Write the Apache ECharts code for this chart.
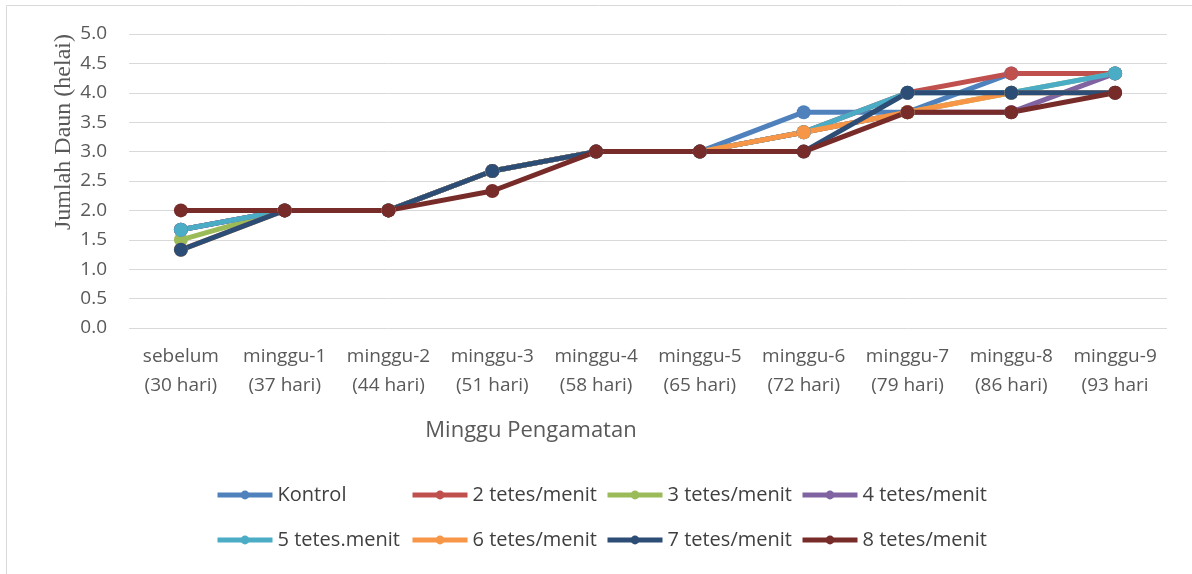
<!DOCTYPE html>
<html>
<head>
<meta charset="utf-8">
<script src="https://cdn.jsdelivr.net/npm/echarts@6/dist/echarts.min.js"></script>
<style>
  html, body { margin: 0; padding: 0; background: #fff; }
  #chart { width: 1192px; height: 574px; }
</style>
</head>
<body>
<div id="chart"></div>
<script>
const categories = [
  'sebelum\n(30 hari)', 'minggu-1\n(37 hari)', 'minggu-2\n(44 hari)', 'minggu-3\n(51 hari)',
  'minggu-4\n(58 hari)', 'minggu-5\n(65 hari)', 'minggu-6\n(72 hari)', 'minggu-7\n(79 hari)',
  'minggu-8\n(86 hari)', 'minggu-9\n(93 hari'
];

const seriesNames = [
  'Kontrol', '2 tetes/menit', '3 tetes/menit', '4 tetes/menit',
  '5 tetes.menit', '6 tetes/menit', '7 tetes/menit', '8 tetes/menit'
];

const colors = ['#4F81BD', '#C0504D', '#9BBB59', '#8064A2', '#4BACC6', '#F79646', '#2C4D75', '#772C2A'];

// average leaf count (helai)
const kontrol = [1.67, 2, 2, 2.67, 3, 3, 3.67, 3.67, 4.33, 4.33];
const tetes2  = [1.67, 2, 2, 2.67, 3, 3, 3.33, 4, 4.33, 4.33];
const tetes3  = [1.5, 2, 2, 2.67, 3, 3, 3.33, 3.67, 4, 4.33];
const tetes4  = [1.67, 2, 2, 2.67, 3, 3, 3.33, 3.67, 3.67, 4.33];
const tetes5  = [1.67, 2, 2, 2.67, 3, 3, 3.33, 4, 4, 4.33];
const tetes6  = [1.33, 2, 2, 2.67, 3, 3, 3.33, 3.67, 4, 4];
const tetes7  = [1.33, 2, 2, 2.67, 3, 3, 3, 4, 4, 4];
const tetes8  = [2, 2, 2, 2.33, 3, 3, 3, 3.67, 3.67, 4];

const allData = [kontrol, tetes2, tetes3, tetes4, tetes5, tetes6, tetes7, tetes8];

const font = 'Open Sans';
const chart = echarts.init(document.getElementById('chart'));

// one legend per item so the columns line up like the Excel legend
const legends = seriesNames.map((name, i) => ({
  orient: 'horizontal',
  left: 215 + 195 * (i % 4),
  top: i < 4 ? 485 : 530,
  padding: 0,
  itemWidth: 55,
  itemHeight: 11,
  lineStyle: { width: 5 },
  textStyle: { fontFamily: font, fontSize: 20, color: '#404040' },
  data: [name]
}));

chart.setOption({
  animation: false,
  color: colors,
  grid: { left: 129, right: 25, top: 34, bottom: 246, containLabel: false },
  legend: legends,
  xAxis: {
    type: 'category',
    data: categories,
    boundaryGap: true,
    axisLine: { show: false },
    axisTick: { show: false },
    axisLabel: { fontFamily: font, fontSize: 19, color: '#595959', lineHeight: 29, margin: 14, interval: 0 }
  },
  yAxis: {
    type: 'value',
    min: 0,
    max: 5,
    interval: 0.5,
    axisLine: { show: false },
    axisTick: { show: false },
    splitLine: { lineStyle: { color: '#d9d9d9', width: 1 } },
    axisLabel: {
      fontFamily: font, fontSize: 19, color: '#595959', margin: 22,
      formatter: v => v.toFixed(1)
    }
  },
  graphic: [
    { type: 'rect', shape: { x: 6.5, y: 5.5, width: 1200, height: 600 }, style: { fill: null, stroke: '#d9d9d9', lineWidth: 1 }, silent: true },
    { type: 'text', x: 64, y: 132, rotation: Math.PI / 2,
      style: { text: 'Jumlah Daun (helai)', fontFamily: 'Liberation Serif', fontSize: 24, fill: '#595959', align: 'center', verticalAlign: 'middle' } },
    { type: 'text', x: 531, y: 431,
      style: { text: 'Minggu Pengamatan', fontFamily: font, fontSize: 22, fill: '#595959', align: 'center', verticalAlign: 'middle' } }
  ],
  series: seriesNames.map((name, i) => ({
    name: name,
    type: 'line',
    data: allData[i],
    symbol: 'circle',
    symbolSize: 14,
    lineStyle: { width: 5 },
    emphasis: { disabled: true }
  }))
});
</script>
</body>
</html>
